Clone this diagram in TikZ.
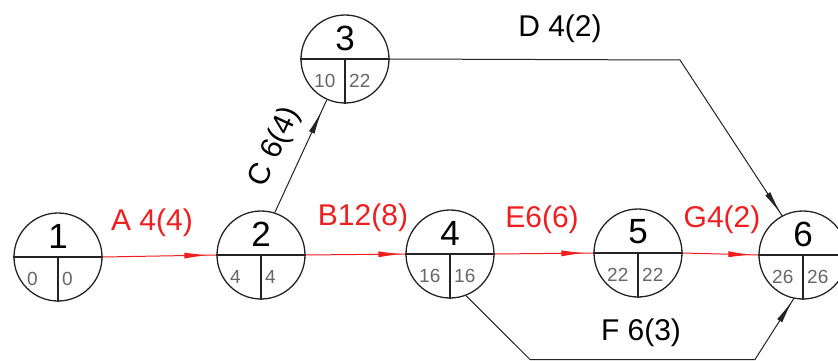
\documentclass[tikz,border=0pt]{standalone}
\usepackage{fontspec}
\setmainfont{Liberation Sans}
\usetikzlibrary{arrows.meta,decorations.markings}
\definecolor{cpred}{RGB}{240,30,30}
\definecolor{ink}{RGB}{35,35,35}
\newcommand\evnode[6]{%
  \node[ev] (#1) at (#2,#3) {};
  \draw[color=ink,line width=1.1pt] (#1.west) -- (#1.east) (#1.center) -- (#1.south);
  \node[num] (#1n) at (#2,#3-21) {#4};
  \node[val] (#1l) at (#2-31,#3+22) {#5};
  \node[val] (#1r) at (#2+4,#3+22) {#6};
}
\tikzset{
  ev/.style={circle,draw=ink,line width=1.3pt,minimum size=88pt,inner sep=0pt},
  num/.style={font=\fontsize{35}{35}\selectfont,text=black,inner sep=0pt},
  val/.style={font=\fontsize{19}{19}\selectfont,text=black!60,inner sep=0pt,anchor=west},
  lab/.style={font=\fontsize{30}{30}\selectfont,inner sep=0pt},
  act/.style={color=ink,line width=1pt},
  crit/.style={color=cpred,line width=1pt},
  tipat/.style={postaction={decorate},decoration={markings,mark=at position #1 with {\arrow{Latex[length=24pt,width=6pt]}}}},
}
\begin{document}
\begin{tikzpicture}[x=1pt,y=-1pt]
\useasboundingbox (0,0) rectangle (838,361);
\evnode{n1}{58}{257}{1}{0}{0}
\evnode{n2}{261}{255}{2}{4}{4}
\evnode{n3}{345}{59}{3}{10}{22}
\evnode{n4}{450}{254}{4}{16}{16}
\evnode{n5}{638}{253}{5}{22}{22}
\evnode{n6}{803}{255}{6}{26}{26}
% activities
\draw[crit,tipat=-8pt] (n1.east) -- (n2.west);
\draw[crit,tipat=-3pt] (n2.east) -- (n4.west);
\draw[crit,tipat=-8pt] (n4.east) -- (n5.west);
\draw[crit,tipat=-6pt] (n5.east) -- (n6.west);
\draw[act,tipat=-12pt] (n2.72) -- (n3.246);
\draw[act,tipat=-2pt] (n3.east) -- (680,60) -- (n6.118);
\draw[act,tipat=-2pt] (n4.-69) -- (530,359.5) -- (755,359.5) -- (n6.258);
% labels
\node[lab,text=cpred] (la) at (152,223) {A 4(4)};
\node[lab,text=cpred] (lb) at (363,218) {B12(8)};
\node[lab,text=cpred] (le) at (542,220) {E6(6)};
\node[lab,text=cpred] (lg) at (722,220) {G4(2)};
\node[lab] (ld) at (560,29) {D 4(2)};
\node[lab] (lf) at (641,333) {F 6(3)};
\node[lab,rotate=65] (lc) at (275,147) {C 6(4)};
\end{tikzpicture}
\end{document}
